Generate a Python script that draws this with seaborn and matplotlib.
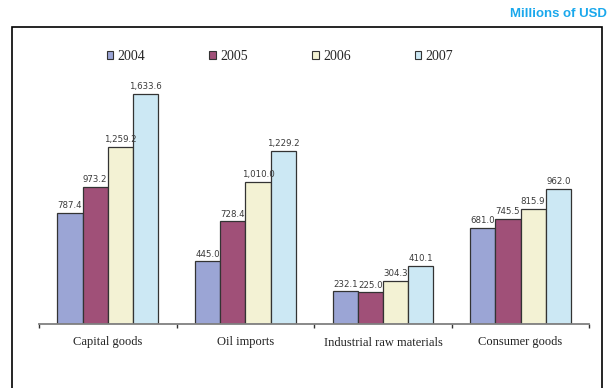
import matplotlib
matplotlib.use("Agg")
import matplotlib.pyplot as plt
from matplotlib.patches import Patch, Rectangle
import pandas as pd
import seaborn as sns

categories = ["Capital goods", "Oil imports", "Industrial raw materials", "Consumer goods"]
years = ["2004", "2005", "2006", "2007"]
values_2004 = [787.4, 445.0, 232.1, 681.0]
values_2005 = [973.2, 728.4, 225.0, 745.5]
values_2006 = [1259.2, 1010.0, 304.3, 815.9]
values_2007 = [1633.6, 1229.2, 410.1, 962.0]
colors = ["#9BA5D5", "#A05078", "#F3F2D4", "#CCE8F4"]
unit_label = "Millions of USD"

series = [values_2004, values_2005, values_2006, values_2007]
df = pd.DataFrame(
    [(c, y, v) for y, vals in zip(years, series) for c, v in zip(categories, vals)],
    columns=["category", "year", "value"],
)

sns.set_theme(style="white")
plt.rcParams["font.family"] = ["DejaVu Sans"]

fig = plt.figure(figsize=(6.10, 3.88), dpi=100)
ax = fig.add_axes([39 / 610, 64 / 388, 550.3 / 610, 281.6 / 388])

sns.barplot(
    data=df, x="category", y="value", hue="year",
    order=categories, hue_order=years, palette=colors,
    width=0.732, dodge=True, edgecolor="#333333", linewidth=0.9,
    saturation=1, legend=False, ax=ax,
)

for container in ax.containers:
    ax.bar_label(container, labels=[f"{v:,.1f}" for v in container.datavalues],
                 padding=2, fontsize=6.2, color="#3a3a3a", family="DejaVu Sans")

ax.set_xlim(-0.5, 3.5)
ax.set_ylim(0, 2000)
ax.set_yticks([])
ax.set_xlabel("")
ax.set_ylabel("")
ax.set_facecolor("none")
for side in ["left", "right", "top"]:
    ax.spines[side].set_visible(False)
ax.spines["bottom"].set_color("#808080")
ax.spines["bottom"].set_linewidth(1.3)

# group separators as major ticks, category names as minor tick labels
ax.set_xticks([-0.5, 0.5, 1.5, 2.5, 3.5], labels=[""] * 5)
ax.tick_params(axis="x", which="major", direction="out", length=3, width=1,
               color="#333333", bottom=True)
ax.set_xticks([0, 1, 2, 3], labels=categories, minor=True)
ax.tick_params(axis="x", which="minor", length=0, pad=9)
for lbl in ax.get_xticklabels(minor=True):
    lbl.set_family("Liberation Serif")
    lbl.set_fontsize(9)
    lbl.set_color("#222222")

handles = [Patch(facecolor=c, edgecolor="#333333", linewidth=0.8) for c in colors]
fig.legend(
    handles, years, ncol=4, loc="center left",
    bbox_to_anchor=(106.5 / 610, 1 - 56 / 388), frameon=False,
    prop={"family": "Liberation Serif", "size": 10},
    handlelength=0.5, handleheight=0.5, handletextpad=0.3,
    columnspacing=4.6, borderpad=0, borderaxespad=0,
)

# outer frame, open at the bottom edge of the image
fig.patches.append(Rectangle(
    (11.7 / 610, -0.1), (601.7 - 11.7) / 610, 1.1 - 27.5 / 388,
    transform=fig.transFigure, fill=False, edgecolor="black", linewidth=1.2,
))

fig.text(606.5 / 610, 1 - 14 / 388, unit_label, ha="right", va="center",
         family="Liberation Sans", fontweight="bold", fontsize=9.5, color="#1AA8EC")

fig.savefig("out.png", dpi=100, facecolor="white")
